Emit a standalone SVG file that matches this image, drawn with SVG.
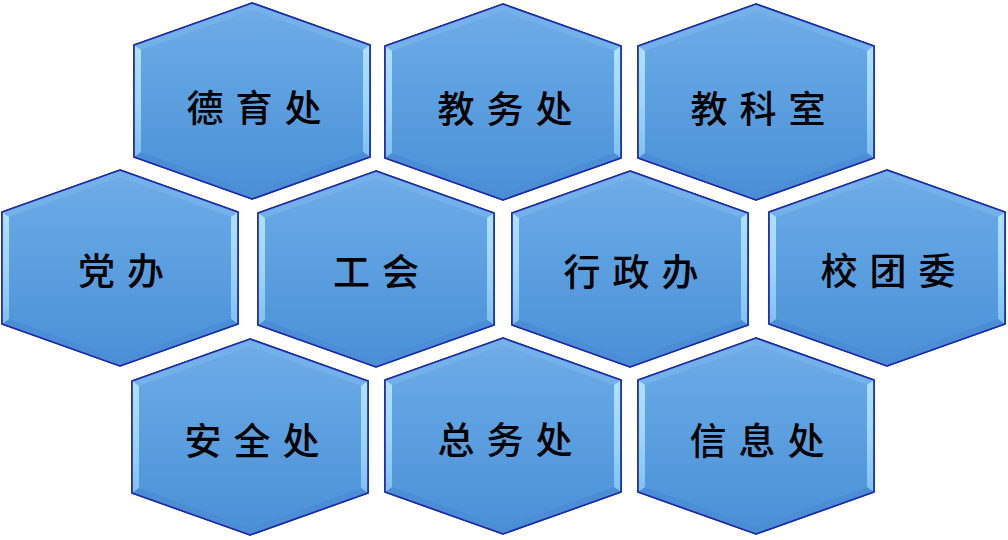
<svg xmlns="http://www.w3.org/2000/svg" xmlns:xlink="http://www.w3.org/1999/xlink" width="1008" height="540" viewBox="0 0 1008 540">
<style>
.lbl{font-family:"Noto Sans CJK SC","Noto Sans CJK JP",sans-serif;font-size:37px;font-weight:500;fill:#000;text-anchor:middle;dominant-baseline:central;letter-spacing:12px}
.outer{fill:url(#gFill);stroke:#1c2aa8;stroke-width:1.6;stroke-linejoin:miter}
.ftop{fill:#74b0ea}
.fbot{fill:#4b8ed6}
.fside{fill:url(#gSide)}
.inner{fill:url(#gFill)}
</style>
<defs>
<linearGradient id="gFill" x1="0" y1="0" x2="0" y2="1">
<stop offset="0" stop-color="#6eabe7"/>
<stop offset="0.5" stop-color="#5b9fe0"/>
<stop offset="1" stop-color="#4c90d8"/>
</linearGradient>
<linearGradient id="gSide" x1="0" y1="0" x2="0" y2="1">
<stop offset="0" stop-color="#aee0fa"/>
<stop offset="0.5" stop-color="#9ed6f7"/>
<stop offset="1" stop-color="#80c0ef"/>
</linearGradient>
<g id="hex">
<polygon class="outer" points="0,0 118,42 118,154 0,196 -118,154 -118,42"/>
<polygon class="ftop" points="-118,42 0,0 0,7.4 -111,46.9"/>
<polygon class="ftop" points="0,0 118,42 111,46.9 0,7.4"/>
<polygon class="fside" points="118,42 118,154 111,149.1 111,46.9"/>
<polygon class="fbot" points="118,154 0,196 0,188.6 111,149.1"/>
<polygon class="fbot" points="0,196 -118,154 -111,149.1 0,188.6"/>
<polygon class="fside" points="-118,154 -118,42 -111,46.9 -111,149.1"/>
<polygon class="inner" points="0,7.4 111,46.9 111,149.1 0,188.6 -111,149.1 -111,46.9"/>
<polygon points="0,0 118,42 118,154 0,196 -118,154 -118,42" fill="none" stroke="#1c2aa8" stroke-width="1.6"/>
</g>
</defs>
<g id="connectors"/>
<g id="node-deyuchu" transform="translate(252,3)"><use xlink:href="#hex"/><text class="lbl" x="8" y="103">德育处</text></g>
<g id="node-jiaowuchu" transform="translate(503,4)"><use xlink:href="#hex"/><text class="lbl" x="8" y="103">教务处</text></g>
<g id="node-jiaokeshi" transform="translate(756,4)"><use xlink:href="#hex"/><text class="lbl" x="8" y="103">教科室</text></g>
<g id="node-dangban" transform="translate(120,170)"><use xlink:href="#hex"/><text class="lbl" x="7" y="99">党办</text></g>
<g id="node-gonghui" transform="translate(376,171)"><use xlink:href="#hex"/><text class="lbl" x="6" y="99">工会</text></g>
<g id="node-xingzhengban" transform="translate(630,171)"><use xlink:href="#hex"/><text class="lbl" x="7" y="99">行政办</text></g>
<g id="node-xiaotuanwei" transform="translate(887,170)"><use xlink:href="#hex"/><text class="lbl" x="7" y="99">校团委</text></g>
<g id="node-anquanchu" transform="translate(250,339)"><use xlink:href="#hex"/><text class="lbl" x="8" y="100">安全处</text></g>
<g id="node-zongwuchu" transform="translate(503,338)"><use xlink:href="#hex"/><text class="lbl" x="8" y="100">总务处</text></g>
<g id="node-xinxichu" transform="translate(756,338)"><use xlink:href="#hex"/><text class="lbl" x="7" y="101">信息处</text></g>
</svg>
